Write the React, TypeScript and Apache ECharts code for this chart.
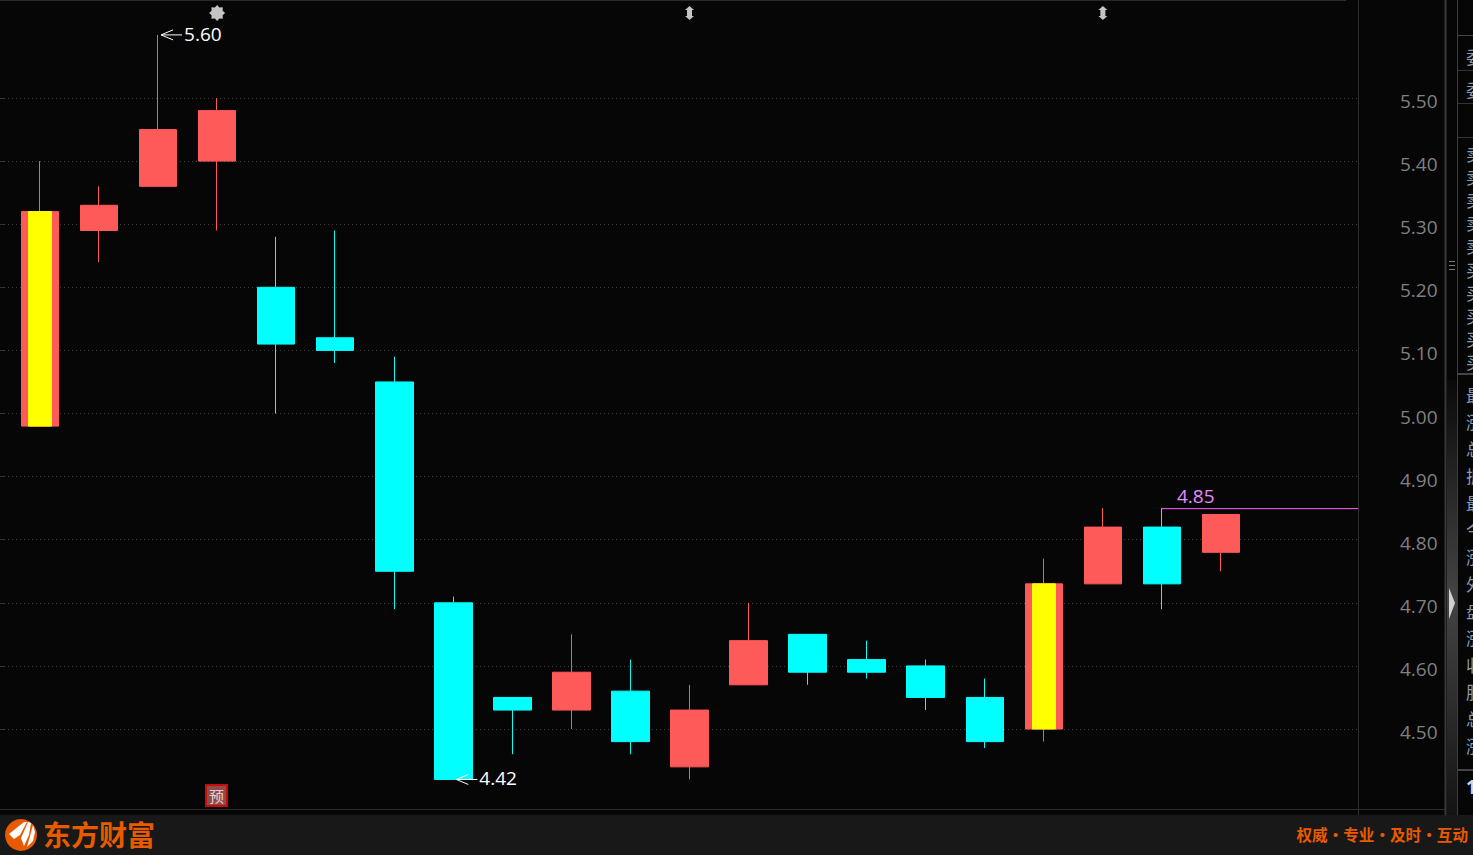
import React, { useEffect, useRef } from "react";
import * as echarts from "echarts";

const categories = ["", "K1", "K2", "K3", "K4", "K5", "K6", "K7", "K8", "K9", "K10", "K11", "K12", "K13", "K14", "K15", "K16", "K17", "K18", "K19", "K20", "K21"];
const opens = [4.98, 5.29, 5.36, 5.40, 5.20, 5.12, 5.05, 4.70, 4.55, 4.53, 4.56, 4.44, 4.57, 4.65, 4.61, 4.60, 4.55, 4.50, 4.73, 4.82, 4.78];
const closes = [5.32, 5.33, 5.45, 5.48, 5.11, 5.10, 4.75, 4.42, 4.53, 4.59, 4.48, 4.53, 4.64, 4.59, 4.59, 4.55, 4.48, 4.73, 4.82, 4.73, 4.84];
const lows = [4.98, 5.24, 5.36, 5.29, 5.00, 5.08, 4.69, 4.42, 4.46, 4.50, 4.46, 4.42, 4.57, 4.57, 4.58, 4.53, 4.47, 4.48, 4.73, 4.69, 4.75];
const highs = [5.40, 5.36, 5.60, 5.50, 5.28, 5.29, 5.09, 4.71, 4.55, 4.65, 4.61, 4.57, 4.70, 4.65, 4.64, 4.61, 4.58, 4.77, 4.85, 4.85, 4.84];
const limitUpIndexes = [0, 17];
const extremeNotes: [number, number, string][] = [[2, 5.6, "5.60"], [7, 4.42, "4.42"]];
const levelNote: [number, number, string] = [19, 4.85, "4.85"];
const eventMarks: [number, string][] = [[3, "gear"], [11, "updown"], [18, "updown"]];
const sideColumnTop = ["委", "委"];
const sideColumnBook = ["卖", "卖", "卖", "卖", "卖", "买", "买", "买", "买", "买"];
const sideColumnStats = ["最", "涨", "总", "振", "最", "今", "涨", "外", "盘", "涨", "收", "股", "总", "涨"];

const BG = "#060606";
const UP = "#ff5a5a";
const DOWN = "#00ffff";
const LINE = "#2e2e2e";
const TXT = "Open Sans, Noto Sans, sans-serif";
const CJK = "Noto Sans CJK SC, sans-serif";

function starPoints(cx: number, cy: number) {
  const pts: number[][] = [];
  for (let i = 0; i < 16; i++) {
    const r = i % 2 ? 6 : 8;
    const a = (i * Math.PI) / 8;
    pts.push([cx + r * Math.cos(a), cy + r * Math.sin(a)]);
  }
  return pts;
}

export default function App() {
  const ref = useRef<HTMLDivElement>(null);
  useEffect(() => {
    document.body.style.margin = "0";
    document.body.style.background = BG;
    document.body.style.overflow = "hidden";
    const chart = echarts.init(ref.current!, undefined, { renderer: "svg" });
    const line = (x1: number, y1: number, x2: number, y2: number, stroke = LINE, lineWidth = 1, z = 60) => ({
      type: "line", z, silent: true,
      shape: { x1, y1, x2, y2 },
      style: { stroke, lineWidth },
    });
    const sideText = (text: string, y: number) => ({
      type: "text", z: 60, silent: true, x: 1466, y,
      style: { text, fill: "#8c9aa8", font: `17px ${CJK}`, textVerticalAlign: "middle" },
    });
    const graphics: any[] = [
      { type: "rect", z: 50, silent: true, shape: { x: 0, y: 815, width: 1473, height: 40 }, style: { fill: "#181818" } },
      line(0, 0.5, 1346, 0.5, "#2a2a2a"),
      line(0, 809.5, 1445, 809.5),
      line(1358.5, 0, 1358.5, 815),
      line(1445.5, 0, 1445.5, 815, "#383838", 2),
      line(1457.5, 0, 1457.5, 815, "#3c3c3c"),
      {
        type: "rect", z: 55, silent: true, shape: { x: 1447, y: 380, width: 10, height: 435 },
        style: {
          fill: { type: "linear", x: 0, y: 0, x2: 0, y2: 1, colorStops: [
            { offset: 0, color: "#0a0a0a" }, { offset: 0.5, color: "#444444" }, { offset: 1, color: "#141414" },
          ] },
        },
      },
      { type: "polygon", z: 60, silent: true, shape: { points: [[1449, 588], [1455, 603], [1449, 619]] }, style: { fill: "#d0d0d0" } },
      line(1449, 261.5, 1455, 261.5, "#777", 1), line(1449, 265.5, 1455, 265.5, "#777", 1), line(1449, 269.5, 1455, 269.5, "#777", 1),
      line(1458, 35.5, 1473, 35.5, "#444"),
      line(1458, 70.5, 1473, 70.5, "#333"),
      line(1458, 103.5, 1473, 103.5, "#333"),
      line(1458, 137.5, 1473, 137.5, "#333"),
      line(1458, 374, 1473, 374, "#444", 2),
      line(1458, 770, 1473, 770, "#444", 2),
      ...sideColumnTop.map((t, i) => sideText(t, 56 + i * 33)),
      ...sideColumnBook.map((t, i) => sideText(t, 153 + i * 23.2)),
      ...sideColumnStats.map((t, i) => sideText(t, 394 + i * 27)),
      { type: "text", z: 60, silent: true, x: 1466, y: 787, style: { text: "1", fill: "#c8d8e8", font: `bold 19px ${TXT}`, textVerticalAlign: "middle" } },
      // 预 badge
      { type: "rect", z: 60, silent: true, shape: { x: 206, y: 785, width: 21, height: 21 }, style: { fill: "#8f4a4a", stroke: "#c80a0a", lineWidth: 2 } },
      { type: "text", z: 61, silent: true, x: 216.5, y: 795.5, style: { text: "预", fill: "#e8d0d0", font: `15px ${CJK}`, textAlign: "center", textVerticalAlign: "middle" } },
      // logo
      { type: "circle", z: 60, silent: true, shape: { cx: 21, cy: 835, r: 16 }, style: { fill: "#e85a00" } },
      { type: "polygon", z: 61, silent: true, shape: { points: [[9, 834], [14, 830], [24, 822], [27, 822], [20, 835], [14, 839]] }, style: { fill: "#fff" } },
      { type: "polygon", z: 61, silent: true, shape: { points: [[21, 838], [28, 822], [31, 823], [29, 835], [24, 846]] }, style: { fill: "#fff" } },
      { type: "polygon", z: 61, silent: true, shape: { points: [[27, 847], [33, 825], [35, 832], [33, 841]] }, style: { fill: "#fff" } },
      { type: "text", z: 60, silent: true, x: 43, y: 834, style: { text: "东方财富", fill: "#e85a00", font: `bold 28px ${CJK}`, textVerticalAlign: "middle" } },
      { type: "text", z: 60, silent: true, x: 1468, y: 834, style: { text: "权威·专业·及时·互动", fill: "#e85a00", font: `bold 15.6px ${CJK}`, textAlign: "right", textVerticalAlign: "middle" } },
    ];

    chart.setOption({
      animation: false,
      backgroundColor: BG,
      graphic: { elements: graphics },
      grid: [
        { left: -48.6, width: 1417.2, top: 98, height: 631, show: false, outerBoundsMode: "none", containLabel: false },
        { left: 0, width: 1358, top: 98, height: 631, show: false, outerBoundsMode: "none", containLabel: false },
      ],
      xAxis: [
        { type: "category", gridIndex: 0, data: [...categories, "", ""], show: false },
        { type: "value", gridIndex: 1, min: 0, max: 1, show: false, splitLine: { show: false } },
      ],
      yAxis: [
        { type: "value", gridIndex: 0, min: 4.5, max: 5.5, interval: 0.1, show: false, splitLine: { show: false } },
        {
          type: "value", gridIndex: 1, position: "right", min: 4.5, max: 5.5, interval: 0.1,
          axisLine: { show: false },
          axisTick: { show: true, length: 4, lineStyle: { color: "#333" } },
          axisLabel: { color: "#808080", fontFamily: TXT, fontSize: 19, margin: 42, verticalAlign: "top", lineHeight: 6, formatter: (v: number) => v.toFixed(2) },
          splitLine: { show: true, lineStyle: { color: "#3c3c3c", type: [1, 3], width: 1 } },
        },
      ],
      series: [
        {
          type: "candlestick", xAxisIndex: 0, yAxisIndex: 0, clip: false, barWidth: 38, z: 2,
          itemStyle: { color: UP, color0: DOWN, borderColor: UP, borderColor0: DOWN, borderWidth: 1 },
          data: [["-", "-", "-", "-"], ...opens.map((o, i) => [o, closes[i], lows[i], highs[i]])],
        },
        {
          type: "candlestick", xAxisIndex: 0, yAxisIndex: 0, clip: false, barWidth: 23, z: 3,
          itemStyle: { color: "#ffff00", color0: "#ffff00", borderColor: "#ffff00", borderColor0: "#ffff00", borderWidth: 1 },
          data: [["-", "-", "-", "-"], ...opens.map((o, i) =>
            limitUpIndexes.includes(i) ? [o, closes[i], o, closes[i]] : ["-", "-", "-", "-"])],
        },
        {
          type: "custom", xAxisIndex: 0, yAxisIndex: 0, clip: false, z: 4, silent: true,
          encode: { x: 0, y: 1 },
          data: extremeNotes.map(([i, v]) => [i + 1, v]),
          renderItem: (p: any, api: any) => {
            const [x, y] = api.coord([api.value(0), api.value(1)]);
            const tip = x + 3;
            const s = { stroke: "#fff", lineWidth: 1, fill: "none" };
            return {
              type: "group",
              children: [
                { type: "line", shape: { x1: tip, y1: y, x2: tip + 21, y2: y }, style: s },
                { type: "polyline", shape: { points: [[tip + 12, y - 5], [tip, y], [tip + 12, y + 5]] }, style: s },
                { type: "text", style: { x: tip + 23, y: y - 1, text: extremeNotes[p.dataIndex][2], fill: "#fff", font: `19px ${TXT}`, verticalAlign: "middle" } },
              ],
            };
          },
        },
        {
          type: "custom", xAxisIndex: 0, yAxisIndex: 0, clip: false, z: 4, silent: true,
          encode: { x: 0, y: 1 },
          data: [[levelNote[0] + 1, levelNote[1]]],
          renderItem: (_p: any, api: any) => {
            const [x, y] = api.coord([api.value(0), api.value(1)]);
            return {
              type: "group",
              children: [
                { type: "line", shape: { x1: x, y1: y + 0.5, x2: 1358, y2: y + 0.5 }, style: { stroke: "#ff66ff", lineWidth: 1 } },
                { type: "text", style: { x: x + 15, y: y - 12, text: levelNote[2], fill: "#e68aff", font: `19px ${TXT}`, verticalAlign: "middle" } },
              ],
            };
          },
        },
        {
          type: "custom", xAxisIndex: 0, yAxisIndex: 0, clip: false, z: 4, silent: true,
          encode: { x: 0 },
          data: eventMarks.map(([i]) => [i + 1, 5]),
          renderItem: (p: any, api: any) => {
            const x = api.coord([api.value(0), 5])[0];
            const y = 13;
            const fill = "#c4c4c4";
            if (eventMarks[p.dataIndex][1] === "gear") {
              return { type: "polygon", shape: { points: starPoints(x, y) }, style: { fill } };
            }
            return {
              type: "polygon",
              shape: { points: [[x, y - 7], [x + 4.5, y - 3], [x + 2.5, y - 3], [x + 2.5, y + 3], [x + 4.5, y + 3], [x, y + 7], [x - 4.5, y + 3], [x - 2.5, y + 3], [x - 2.5, y - 3], [x - 4.5, y - 3]] },
              style: { fill },
            };
          },
        },
      ],
    });
    return () => chart.dispose();
  }, []);
  return <div ref={ref} style={{ width: 1473, height: 855 }} />;
}
